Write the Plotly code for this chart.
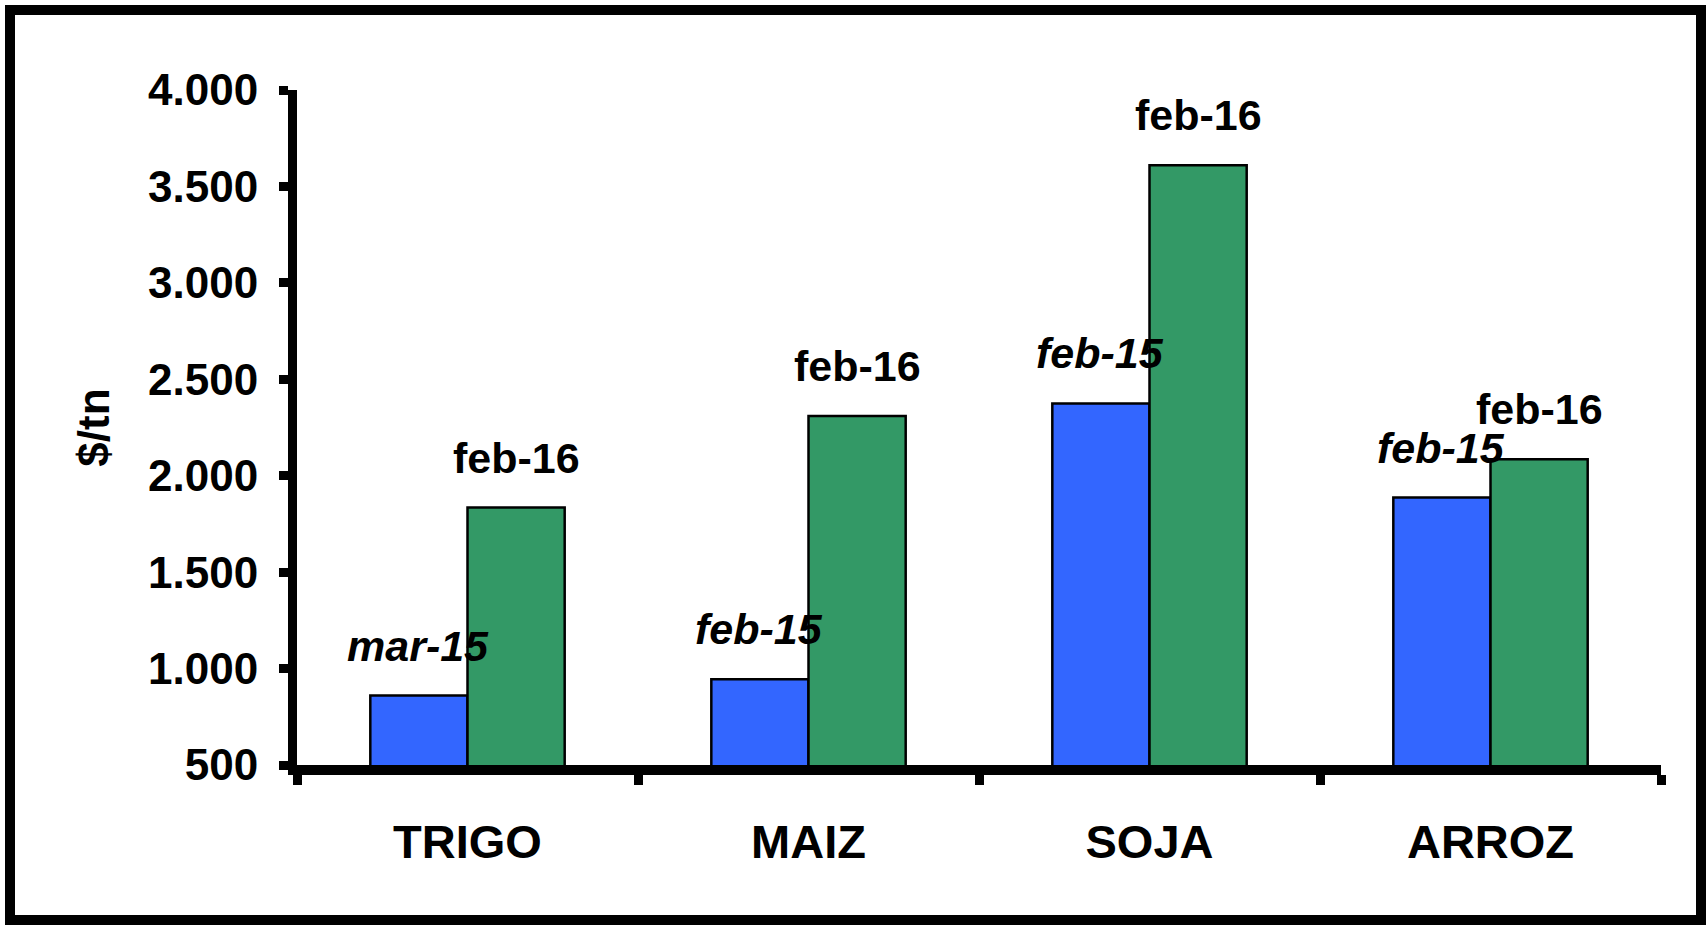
import plotly.graph_objects as go

categories = ["TRIGO", "MAIZ", "SOJA", "ARROZ"]
prev_values = [860, 945, 2375, 1887]      # blue series (2015)
curr_values = [1835, 2310, 3610, 2085]    # green series (feb-16)
prev_labels = ["mar-15", "feb-15", "feb-15", "feb-15"]
curr_labels = ["feb-16", "feb-16", "feb-16", "feb-16"]
y_ticks = [500, 1000, 1500, 2000, 2500, 3000, 3500, 4000]
y_ticklabels = ["500", "1.000", "1.500", "2.000", "2.500", "3.000", "3.500", "4.000"]

FONT = "Liberation Sans, Arial, sans-serif"
W, H = 1707, 925
L, R, T, B = 297, 1661, 90, 765

fig = go.Figure()
fig.add_trace(go.Bar(x=categories, y=prev_values, name="2015",
                     marker=dict(color="#3366FF", line=dict(color="black", width=2.5))))
fig.add_trace(go.Bar(x=categories, y=curr_values, name="feb-16",
                     marker=dict(color="#339966", line=dict(color="black", width=2.5))))

annotations = []
for c, v, t in zip(categories, prev_values, prev_labels):
    annotations.append(dict(x=c, y=v, text=f"<b><i>{t}</i></b>", showarrow=False,
                            xshift=-50, yshift=50, yanchor="middle", xanchor="center",
                            font=dict(family=FONT, size=43, color="black")))
for c, v, t in zip(categories, curr_values, curr_labels):
    annotations.append(dict(x=c, y=v, text=f"<b>{t}</b>", showarrow=False,
                            xshift=49, yshift=50, yanchor="middle", xanchor="center",
                            font=dict(family=FONT, size=43, color="black")))

pw = R - L
ph = B - T
def px_x(p):
    return (p - L) / pw
def px_y(p):
    return (B - p) / ph

shapes = [dict(type="rect", xref="paper", yref="paper",
               x0=px_x(10), x1=px_x(1701), y0=px_y(920), y1=px_y(10),
               line=dict(color="black", width=10), fillcolor="rgba(0,0,0,0)", layer="above")]

fig.update_layout(
    width=W, height=H,
    margin=dict(l=L, r=W - R, t=T, b=H - B, pad=0),
    paper_bgcolor="white", plot_bgcolor="white",
    barmode="group", bargap=0.43, bargroupgap=0,
    showlegend=False,
    font=dict(family=FONT, color="black"),
    annotations=annotations,
    shapes=shapes,
    xaxis=dict(
        range=[-0.5, 3.5], showline=True, linecolor="black", linewidth=10,
        ticks="outside", tickson="boundaries", ticklen=10, tickwidth=9, tickcolor="black",
        tickfont=dict(family=FONT, size=47, color="black", weight="bold"),
        ticklabelstandoff=27, showgrid=False, zeroline=False,
    ),
    yaxis=dict(
        range=[500, 4000], tickvals=y_ticks, ticktext=y_ticklabels,
        showline=True, linecolor="black", linewidth=9,
        ticks="outside", ticklen=9, tickwidth=9, tickcolor="black",
        tickfont=dict(family=FONT, size=44, color="black", weight="bold"),
        ticklabelstandoff=12, showgrid=False, zeroline=False,
        title=dict(text="<b>$/tn</b>", font=dict(family=FONT, size=44, color="black"), standoff=28),
    ),
)

fig.write_html("out.html", config={"displayModeBar": False},
               post_script="document.body.style.margin='0';document.body.style.overflow='hidden';")
